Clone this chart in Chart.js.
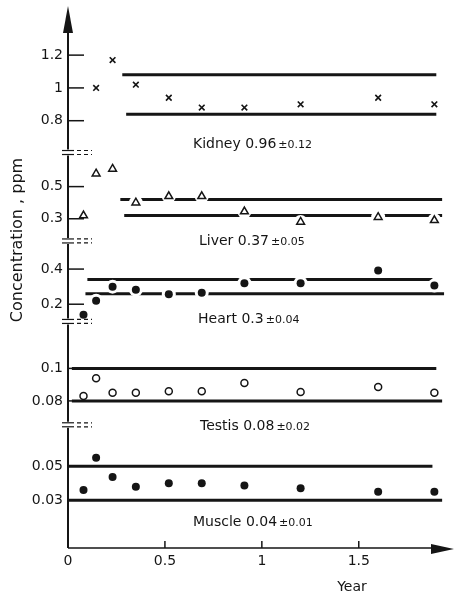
<!DOCTYPE html>
<html><head><meta charset="utf-8">
<script src="https://cdn.jsdelivr.net/npm/chart.js@4.4.1/dist/chart.umd.min.js"></script>
<style>html,body{margin:0;padding:0;background:#fff}canvas{display:block}</style>
</head><body>
<canvas id="c" width="454" height="601"></canvas>
<script>
// ---- data ----
const years  = [0.08, 0.145, 0.23, 0.35, 0.52, 0.69, 0.91, 1.20, 1.60, 1.89];
const kidney = [null, 1.00, 1.17, 1.02, 0.94, 0.88, 0.88, 0.90, 0.94, 0.90];
const liver  = [0.32, 0.58, 0.61, 0.40, 0.44, 0.44, 0.345, 0.28, 0.31, 0.29];
const heart  = [0.14, 0.22, 0.30, 0.283, 0.257, 0.265, 0.32, 0.32, 0.392, 0.306];
const testis = [0.083, 0.094, 0.085, 0.085, 0.086, 0.086, 0.091, 0.0855, 0.0886, 0.085];
const muscle = [0.036, 0.055, 0.0436, 0.038, 0.040, 0.040, 0.0387, 0.037, 0.035, 0.035];

const organs = ['Kidney', 'Liver', 'Heart', 'Testis', 'Muscle'];
const means  = ['0.96', '0.37', '0.3', '0.08', '0.04'];
const sds    = ['0.12', '0.05', '0.04', '0.02', '0.01'];
const bandHigh = [1.08, 0.42, 0.34, 0.10, 0.05];
const bandLow  = [0.84, 0.32, 0.26, 0.08, 0.03];
const bandHighFrom = [0.28, 0.27, 0.10, 0.02, 0.00];
const bandHighTo   = [1.90, 1.93, 1.88, 1.90, 1.88];
const bandLowFrom  = [0.30, 0.29, 0.09, 0.02, 0.00];
const bandLowTo    = [1.90, 1.93, 1.94, 1.93, 1.93];

const kidneyTicks = [0.8, 1, 1.2];
const liverTicks  = [0.3, 0.5];
const heartTicks  = [0.2, 0.4];
const testisTicks = [0.08, 0.1];
const muscleTicks = [0.03, 0.05];
const xTicks = [0, 0.5, 1, 1.5];

// ---- build ----
const ids = ['yK', 'yL', 'yH', 'yT', 'yM'];
const series = [kidney, liver, heart, testis, muscle];
const pts = arr => years.map((x, i) => ({x, y: arr[i]})).filter(p => p.y !== null);
const INK = '#151515';
const FONT = '"DejaVu Sans", sans-serif';

const datasets = [];
for (let i = 0; i < 5; i++) {
  datasets.push({type:'line', data:[{x:bandHighFrom[i], y:bandHigh[i]},{x:bandHighTo[i], y:bandHigh[i]}],
    yAxisID: ids[i], borderColor: INK, borderWidth: 3, pointRadius: 0, order: 5});
  datasets.push({type:'line', data:[{x:bandLowFrom[i], y:bandLow[i]},{x:bandLowTo[i], y:bandLow[i]}],
    yAxisID: ids[i], borderColor: INK, borderWidth: 3, pointRadius: 0, order: 5});
}
// white masks (gaps in band lines around markers)
[1, 2].forEach(i => datasets.push({type:'line', showLine:false, data: pts(series[i]), yAxisID: ids[i],
  pointRadius: 7, pointBackgroundColor:'#fff', pointBorderWidth:0, order: 3}));
const styles = [
  {pointStyle:'crossRot', pointRadius:4, pointBorderWidth:1.6, pointBorderColor:INK, pointBackgroundColor:INK},
  {pointStyle:'triangle', pointRadius:4.5, pointBorderWidth:1.5, pointBorderColor:INK, pointBackgroundColor:'#fff'},
  {pointStyle:'circle', pointRadius:4, pointBorderWidth:0, pointBackgroundColor:INK},
  {pointStyle:'circle', pointRadius:3.5, pointBorderWidth:1.5, pointBorderColor:INK, pointBackgroundColor:'#fff'},
  {pointStyle:'circle', pointRadius:4, pointBorderWidth:0, pointBackgroundColor:INK}
];
for (let i = 0; i < 5; i++) {
  datasets.push(Object.assign({type:'line', showLine:false, data: pts(series[i]), yAxisID: ids[i], order: 1}, styles[i]));
}

function yAxis(min, max, weight, ticks) {
  return {
    type:'linear', position:'left', stack:'organs', stackWeight: weight, offset:false,
    min, max,
    grid:{display:false, drawTicks:false}, border:{display:false},
    afterBuildTicks: s => { s.ticks = ticks.map(v => ({value: v})); },
    afterFit: s => { s.width = 60; },
    ticks:{color:INK, padding:5, font:{family:FONT, size:14}, callback: v => String(v)}
  };
}

const deco = {
  id: 'deco',
  afterDraw(chart) {
    const ctx = chart.ctx, ca = chart.chartArea, sx = chart.scales.x;
    const ax = ca.left, by = ca.bottom;
    ctx.save();
    ctx.strokeStyle = INK; ctx.fillStyle = INK;
    const breaks = ids.slice(0, 4).map(id => chart.scales[id].bottom);
    // y axis line with breaks
    ctx.lineWidth = 2;
    let start = 32;
    const segs = [];
    breaks.forEach(b => { segs.push([start, b - 3]); start = b + 3; });
    segs.push([start, by]);
    segs.forEach(([a, b]) => { ctx.beginPath(); ctx.moveTo(ax, a); ctx.lineTo(ax, b); ctx.stroke(); });
    // y arrow
    ctx.beginPath(); ctx.moveTo(ax, 6); ctx.lineTo(ax - 5, 33); ctx.lineTo(ax + 5, 33); ctx.closePath(); ctx.fill();
    // break marks
    ctx.lineWidth = 1.2;
    breaks.forEach(b => {
      [b - 2, b + 2].forEach(y => {
        ctx.setLineDash([]); ctx.beginPath(); ctx.moveTo(ax - 6, y); ctx.lineTo(ax + 6, y); ctx.stroke();
        ctx.setLineDash([4, 3]); ctx.beginPath(); ctx.moveTo(ax + 9, y); ctx.lineTo(ax + 24, y); ctx.stroke();
      });
    });
    ctx.setLineDash([]);
    // inner y ticks
    ctx.lineWidth = 1.5;
    ids.forEach(id => {
      chart.scales[id].ticks.forEach(t => {
        const y = chart.scales[id].getPixelForValue(t.value);
        ctx.beginPath(); ctx.moveTo(ax, y); ctx.lineTo(ax + 16, y); ctx.stroke();
      });
    });
    // x axis
    ctx.lineWidth = 1.5;
    ctx.beginPath(); ctx.moveTo(ax, by); ctx.lineTo(432, by); ctx.stroke();
    ctx.beginPath(); ctx.moveTo(454, by + 1); ctx.lineTo(431, by - 4); ctx.lineTo(431, by + 6); ctx.closePath(); ctx.fill();
    xTicks.slice(1).forEach(v => {
      const x = sx.getPixelForValue(v);
      ctx.beginPath(); ctx.moveTo(x, by); ctx.lineTo(x, by - 7); ctx.stroke();
    });
    // titles
    ctx.font = '16px ' + FONT; ctx.textAlign = 'center'; ctx.textBaseline = 'middle';
    ctx.save(); ctx.translate(18, 240); ctx.rotate(-Math.PI / 2);
    ctx.fillText('Concentration , ppm', 0, 0); ctx.restore();
    ctx.font = '14px ' + FONT;
    ctx.fillText('Year', 352, 587);
    // organ labels
    const lx = [193, 199, 198, 200, 193], ly = [143, 240, 318, 425, 521];
    ctx.textAlign = 'left'; ctx.textBaseline = 'alphabetic';
    for (let i = 0; i < 5; i++) {
      ctx.font = '14px ' + FONT;
      const big = organs[i] + ' ' + means[i];
      ctx.fillText(big, lx[i], ly[i] + 5);
      const w = ctx.measureText(big).width;
      ctx.font = '11px ' + FONT;
      ctx.fillText('\u00b1' + sds[i], lx[i] + w + 2, ly[i] + 5);
    }
    ctx.restore();
  }
};

new Chart(document.getElementById('c'), {
  data: {datasets},
  options: {
    responsive:false, animation:false, devicePixelRatio:1,
    layout:{padding:{left:8, right:8, top:10, bottom:0}},
    plugins:{legend:{display:false}, tooltip:{enabled:false}},
    scales: {
      x: {type:'linear', min:0, max:1.95,
        grid:{display:false, drawTicks:false}, border:{display:false},
        afterBuildTicks: s => { s.ticks = xTicks.map(v => ({value: v})); },
        afterFit: s => { s.height = 53; },
        ticks:{color:INK, padding:5, font:{family:FONT, size:14}, callback: v => String(v)}},
      yM: yAxis(0.002, 0.0743, 124, muscleTicks),
      yT: yAxis(0.0653, 0.1289, 104, testisTicks),
      yH: yAxis(0.102, 0.56, 81, heartTicks),
      yL: yAxis(0.162, 0.712, 89, liverTicks),
      yK: yAxis(0.606, 1.4545, 140, kidneyTicks)
    }
  },
  plugins:[deco]
});
</script>
</body></html>
